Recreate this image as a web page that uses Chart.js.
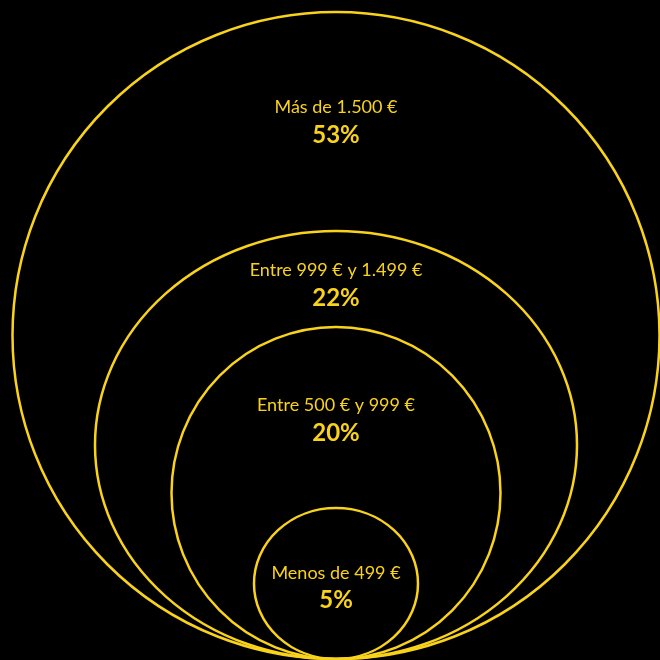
<!DOCTYPE html>
<html>
<head>
<meta charset="utf-8">
<script src="https://cdn.jsdelivr.net/npm/chart.js@4"></script>
<style>
    html, body { margin: 0; padding: 0; background: #000; }
    #wrap { width: 660px; height: 660px; }
</style>
</head>
<body>
<div id="wrap"><canvas id="ringsChart" width="660" height="660"></canvas></div>
<script>
// tramos de gasto y porcentajes
const categories = ["Más de 1.500 €", "Entre 999 € y 1.499 €", "Entre 500 € y 999 €", "Menos de 499 €"];
const percents = [53, 22, 20, 5];
// tamaño de cada anillo (ancho y alto, en unidades de la escala)
const ringWidth = [647, 482, 329, 164];
const ringHeight = [647, 428, 332, 151];

const YELLOW = "#f9d21c";

// dibuja las elipses usando las escalas del gráfico
const ringsPlugin = {
    id: "rings",
    afterDatasetsDraw(chart) {
        const ctx = chart.ctx;
        const xs = chart.scales.x;
        const ys = chart.scales.y;
        const rings = chart.data.datasets.map((ds) => {
            const p = ds.data[0];
            const cx = xs.getPixelForValue(p.x);
            const cy = ys.getPixelForValue(p.y);
            const rx = Math.abs(xs.getPixelForValue(p.x + p.w / 2) - cx);
            const ry = Math.abs(ys.getPixelForValue(p.y + p.h / 2) - cy);
            return { cx, cy, rx, ry, top: cy - ry, bottom: cy + ry };
        });
        ctx.save();
        ctx.strokeStyle = YELLOW;
        ctx.lineWidth = 2.5;
        rings.forEach((r) => {
            ctx.beginPath();
            ctx.ellipse(r.cx, r.cy, r.rx, r.ry, 0, 0, Math.PI * 2);
            ctx.stroke();
        });
        ctx.fillStyle = YELLOW;
        ctx.textAlign = "center";
        ctx.textBaseline = "middle";
        rings.forEach((r, i) => {
            // texto en la franja entre este anillo y el siguiente
            const next = i + 1 < rings.length ? rings[i + 1].top : r.bottom;
            const mid = r.top + (next - r.top) * 0.455 + 10;
            ctx.font = "18px Lato";
            ctx.fillText(chart.data.labels[i], r.cx, mid - 14);
            ctx.font = "bold 24px Lato";
            ctx.fillText(chart.data.datasets[i].pct + "%", r.cx, mid + 14);
        });
        ctx.restore();
    },
};

const datasets = categories.map((c, i) => ({
    label: c,
    pct: percents[i],
    data: [{ x: 0, y: ringHeight[i] / 2, w: ringWidth[i], h: ringHeight[i] }],
    pointRadius: 0,
    pointHoverRadius: 0,
}));

new Chart(document.getElementById("ringsChart").getContext("2d"), {
    type: "scatter",
    data: { labels: categories, datasets: datasets },
    options: {
        responsive: false,
        animation: false,
        layout: { padding: 0 },
        plugins: { legend: { display: false }, tooltip: { enabled: false } },
        scales: {
            x: { min: -336, max: 324, display: false },
            y: { min: -1, max: 659, display: false },
        },
    },
    plugins: [ringsPlugin],
});
</script>
</body>
</html>
